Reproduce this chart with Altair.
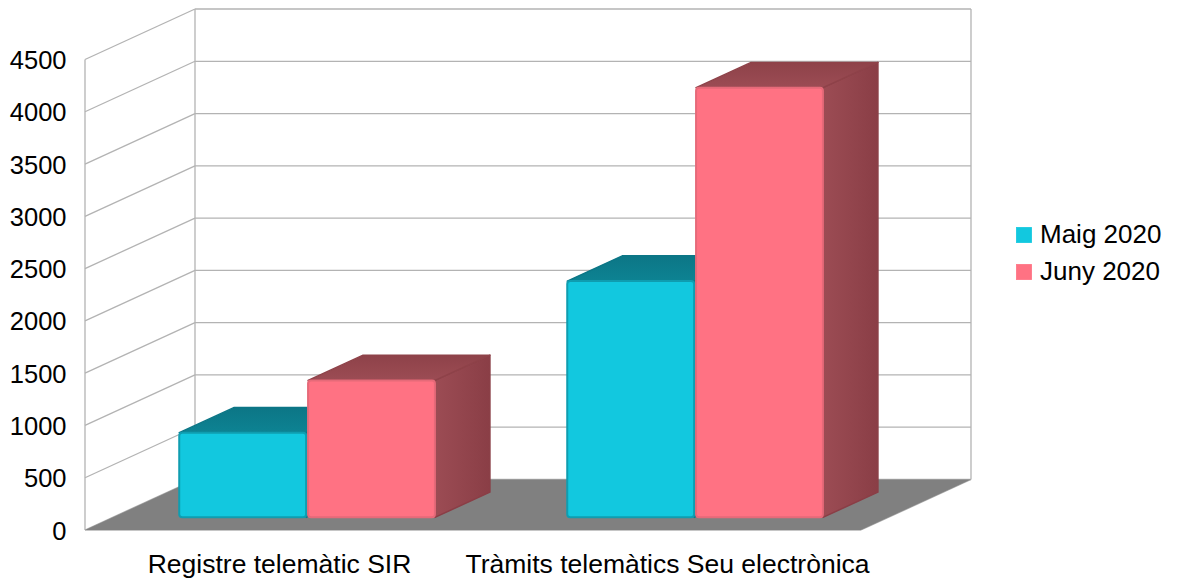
import altair as alt
import pandas as pd

categories = ["Registre telemàtic SIR", "Tràmits telemàtics Seu electrònica"]
series_names = ["Maig 2020", "Juny 2020"]
maig_values = [810, 2260]
juny_values = [1310, 4110]
y_ticks = [0, 500, 1000, 1500, 2000, 2500, 3000, 3500, 4000, 4500]

FRONT = ["#12C8DF", "#FF7283"]
EDGE = ["#0F9DB0", "#E66A79"]
TOP = [["#0C7686", "#0D8393"], ["#8E4249", "#9C4C54"]]
SIDE = [["#0D8393", "#0C7686"], ["#9C4C54", "#8A3E46"]]
GRID = "#B3B3B3"
FONT = "Liberation Sans"
FS = 25.5

DX = 110 / 388      # chart depth, horizontal part, in category units
DY = 483            # chart depth, vertical part, in value units
D0, D1 = 0.25, 0.75 # bars occupy the middle of the depth
BAR = 0.327
STEP = 0.332
INSET = 0.172
YMAX = max(y_ticks)

xs = alt.Scale(domain=[0, len(categories) + DX], nice=False, zero=False)
ys = alt.Scale(domain=[0, YMAX + DY], nice=False, zero=False)

label_expr = "datum.value < 1 ? '%s' : '%s'" % (categories[0], categories[1])
x_axis = alt.Axis(
    values=[0.5, 1.5], labelExpr=label_expr, domain=False, ticks=False, grid=False,
    labelFontSize=26.5, labelFont=FONT, labelColor="#000000", labelPadding=34, labelLimit=600,
    labelAngle=0, labelBaseline="middle", labelOverlap=False,
)
y_axis = alt.Axis(
    values=y_ticks, domain=False, ticks=False, grid=False, format="d",
    labelFontSize=FS, labelFont=FONT, labelColor="#000000", labelPadding=19, labelOffset=1,
    labelBaseline="middle", labelOverlap=False,
)


def X(f="x"):
    return alt.X(f"{f}:Q", scale=xs, axis=x_axis, title=None)


def Y(f="y"):
    return alt.Y(f"{f}:Q", scale=ys, axis=y_axis, title=None)


def grad(stops, horizontal=True):
    return alt.LinearGradient(
        gradient="linear",
        stops=[alt.GradientStop(color=stops[0], offset=0), alt.GradientStop(color=stops[1], offset=1)],
        x1=0, x2=1 if horizontal else 0, y1=0, y2=0 if horizontal else 1,
    )


# floor
n = len(categories)
floor = pd.DataFrame({"y": [0, DY], "x": [0, DX], "x2": [n, n + DX]})
floor_layer = alt.Chart(floor).mark_area(orient="horizontal", color="#808080").encode(
    y=Y(), x=X(), x2="x2:Q"
)

# walls
rows = []
for t in y_ticks:
    rows.append({"x": 0, "x2": DX, "y": t, "y2": t + DY})
    rows.append({"x": DX, "x2": n + DX, "y": t + DY, "y2": t + DY})
rows.append({"x": 0, "x2": 0, "y": 0, "y2": YMAX})
rows.append({"x": DX, "x2": DX, "y": DY, "y2": YMAX + DY})
rows.append({"x": n + DX, "x2": n + DX, "y": DY, "y2": YMAX + DY})
rows.append({"x": 0, "x2": n, "y": 0, "y2": 0})
rows.append({"x": n, "x2": n + DX, "y": 0, "y2": DY})
wall_layer = alt.Chart(pd.DataFrame(rows)).mark_rule(color=GRID, strokeWidth=1.3).encode(
    x=X(), x2="x2:Q", y=Y(), y2="y2:Q",
)

layers = [wall_layer, floor_layer]
color = alt.Color(
    "series:N",
    scale=alt.Scale(domain=series_names, range=FRONT),
    legend=alt.Legend(
        title=None, orient="none", legendX=926, legendY=213, symbolType="square", symbolSize=250,
        symbolStrokeWidth=0, labelFontSize=26, labelFont=FONT, labelColor="#000000",
        rowPadding=11, labelOffset=3,
    ),
)

for c, name_values in enumerate(zip(maig_values, juny_values)):
    for s, v in enumerate(name_values):
        x0 = c + INSET + s * STEP + D0 * DX
        x1 = x0 + BAR
        b0 = D0 * DY
        t0 = b0 + v
        ddx = (D1 - D0) * DX
        ddy = (D1 - D0) * DY
        side = pd.DataFrame({"x": [x1, x1 + ddx], "y": [t0, t0 + ddy], "y2": [b0, b0 + ddy]})
        top = pd.DataFrame({"y": [t0, t0 + ddy], "x": [x0, x0 + ddx], "x2": [x1, x1 + ddx]})
        front = pd.DataFrame([{"x": x0, "x2": x1, "y": b0, "y2": t0, "series": series_names[s]}])
        layers.append(alt.Chart(side).mark_area(
            color=grad(SIDE[s]), stroke=SIDE[s][1], strokeWidth=1.5, strokeJoin="round"
        ).encode(x=X(), y=Y(), y2="y2:Q"))
        layers.append(alt.Chart(top).mark_area(
            orient="horizontal", color=grad(TOP[s], horizontal=False), stroke=TOP[s][0], strokeWidth=1.5, strokeJoin="round"
        ).encode(y=Y(), x=X(), x2="x2:Q"))
        layers.append(alt.Chart(front).mark_rect(
            cornerRadius=3, stroke=EDGE[s], strokeWidth=2
        ).encode(x=X(), x2="x2:Q", y=Y(), y2="y2:Q", color=color))

chart = alt.layer(*layers).properties(
    width=886, height=521,
    padding={"left": 77, "top": 1, "right": 199, "bottom": 48},
    autosize=alt.AutoSizeParams(type="none"),
).configure_view(stroke=None)

chart.save("out.html", embed_options={"renderer": "svg", "actions": False})
